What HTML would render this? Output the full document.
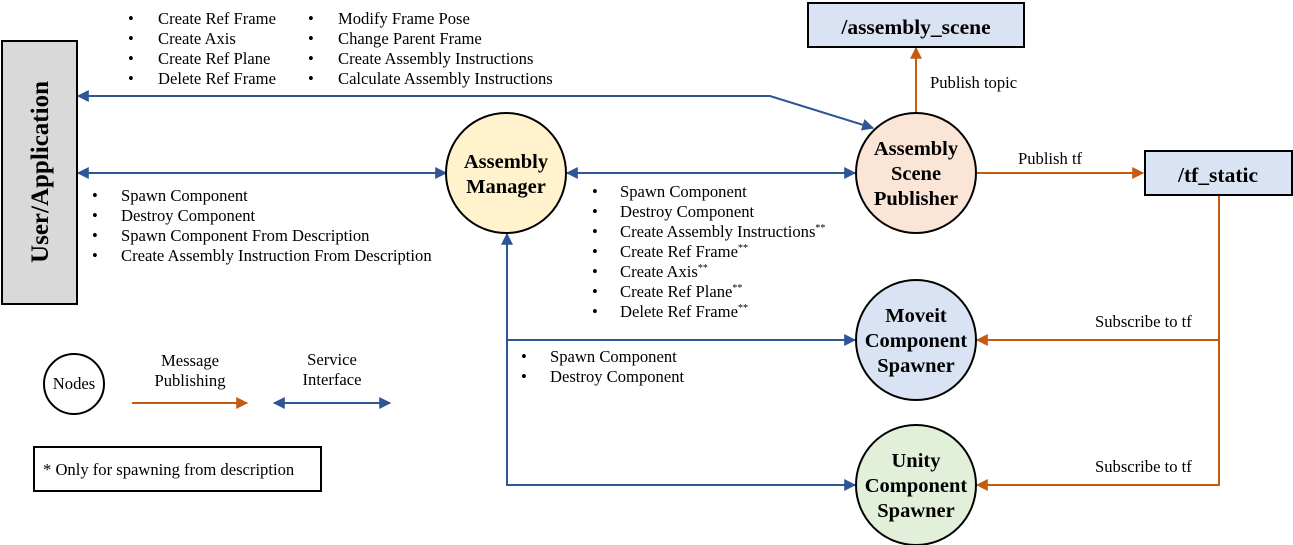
<!DOCTYPE html>
<html><head><meta charset="utf-8"><style>
body{margin:0;background:#fff}
svg{display:block;font-family:"Liberation Serif",serif}
.t{font-size:16.6px;fill:#000}
.b{font-size:20.5px;font-weight:bold;fill:#000}
</style></head><body>
<svg width="1293" height="545" viewBox="0 0 1293 545">
<defs>
<marker id="ab" viewBox="0 0 10 10" refX="9" refY="5" markerWidth="13" markerHeight="12" markerUnits="userSpaceOnUse" orient="auto-start-reverse"><path d="M0,0L10,5L0,10z" fill="#2f5597"/></marker>
<marker id="ao" viewBox="0 0 10 10" refX="9" refY="5" markerWidth="13" markerHeight="12" markerUnits="userSpaceOnUse" orient="auto-start-reverse"><path d="M0,0L10,5L0,10z" fill="#c55a11"/></marker>
</defs>
<g stroke="#2f5597" stroke-width="2" fill="none">
<polyline points="78,96 770,96 873,128" marker-start="url(#ab)" marker-end="url(#ab)"/>
<line x1="78" y1="173" x2="446" y2="173" marker-start="url(#ab)" marker-end="url(#ab)"/>
<line x1="567" y1="173" x2="855" y2="173" marker-start="url(#ab)" marker-end="url(#ab)"/>
<polyline points="507,234 507,485 855,485" marker-start="url(#ab)" marker-end="url(#ab)"/>
<line x1="507" y1="340" x2="855" y2="340" marker-end="url(#ab)"/>
<line x1="274" y1="403" x2="390" y2="403" marker-start="url(#ab)" marker-end="url(#ab)"/>
</g>
<g stroke="#c55a11" stroke-width="2" fill="none">
<line x1="916" y1="113" x2="916" y2="48" marker-end="url(#ao)"/>
<line x1="977" y1="173" x2="1143" y2="173" marker-end="url(#ao)"/>
<polyline points="1219,196 1219,485 977,485" marker-end="url(#ao)"/>
<line x1="1219" y1="340" x2="977" y2="340" marker-end="url(#ao)"/>
<line x1="132" y1="403" x2="247" y2="403" marker-end="url(#ao)"/>
</g>
<rect x="2" y="41" width="75" height="263" fill="#d9d9d9" stroke="#000" stroke-width="2"/>
<text class="b" transform="translate(48,172) rotate(-90)" text-anchor="middle" style="font-size:25px">User/Application</text>
<rect x="808" y="3" width="216" height="44" fill="#dae3f3" stroke="#000" stroke-width="2"/>
<text class="b" x="916" y="34" text-anchor="middle" style="font-size:21.5px">/assembly_scene</text>
<rect x="1145" y="151" width="147" height="44" fill="#dae3f3" stroke="#000" stroke-width="2"/>
<text class="b" x="1218" y="182" text-anchor="middle" style="font-size:21.5px">/tf_static</text>
<g stroke="#000" stroke-width="2">
<circle cx="506" cy="173" r="60" fill="#fff2cc"/>
<circle cx="916" cy="173" r="60" fill="#fbe5d6"/>
<circle cx="916" cy="340" r="60" fill="#dae3f3"/>
<circle cx="916" cy="485" r="60" fill="#e2f0d9"/>
<circle cx="74" cy="384" r="30" fill="#fff"/>
</g>
<rect x="34" y="447" width="287" height="44" fill="#fff" stroke="#000" stroke-width="2"/>
<g class="b" text-anchor="middle">
<text x="506" y="168">Assembly</text><text x="506" y="193">Manager</text>
<text x="916" y="155">Assembly</text><text x="916" y="180">Scene</text><text x="916" y="205">Publisher</text>
<text x="916" y="322">Moveit</text><text x="916" y="347">Component</text><text x="916" y="372">Spawner</text>
<text x="916" y="467">Unity</text><text x="916" y="492">Component</text><text x="916" y="517">Spawner</text>
</g>
<g class="t">
<text x="74" y="389" text-anchor="middle">Nodes</text>
<text x="190" y="366" text-anchor="middle">Message</text><text x="190" y="386" text-anchor="middle">Publishing</text>
<text x="332" y="365" text-anchor="middle">Service</text><text x="332" y="385" text-anchor="middle">Interface</text>
<text x="43" y="475">* Only for spawning from description</text>
<text x="930" y="88">Publish topic</text>
<text x="1018" y="164">Publish tf</text>
<text x="1095" y="327">Subscribe to tf</text>
<text x="1095" y="472">Subscribe to tf</text>
<text x="128" y="24">•</text><text x="158" y="24">Create Ref Frame</text>
<text x="128" y="44">•</text><text x="158" y="44">Create Axis</text>
<text x="128" y="64">•</text><text x="158" y="64">Create Ref Plane</text>
<text x="128" y="84">•</text><text x="158" y="84">Delete Ref Frame</text>
<text x="308" y="24">•</text><text x="338" y="24">Modify Frame Pose</text>
<text x="308" y="44">•</text><text x="338" y="44">Change Parent Frame</text>
<text x="308" y="64">•</text><text x="338" y="64">Create Assembly Instructions</text>
<text x="308" y="84">•</text><text x="338" y="84">Calculate Assembly Instructions</text>
<text x="92" y="201">•</text><text x="121" y="201">Spawn Component</text>
<text x="92" y="221">•</text><text x="121" y="221">Destroy Component</text>
<text x="92" y="241">•</text><text x="121" y="241">Spawn Component From Description</text>
<text x="92" y="261">•</text><text x="121" y="261">Create Assembly Instruction From Description</text>
<text x="592" y="197">•</text><text x="620" y="197">Spawn Component</text>
<text x="592" y="217">•</text><text x="620" y="217">Destroy Component</text>
<text x="592" y="237">•</text><text x="620" y="237">Create Assembly Instructions<tspan font-size="10" dy="-6">**</tspan></text>
<text x="592" y="257">•</text><text x="620" y="257">Create Ref Frame<tspan font-size="10" dy="-6">**</tspan></text>
<text x="592" y="277">•</text><text x="620" y="277">Create Axis<tspan font-size="10" dy="-6">**</tspan></text>
<text x="592" y="297">•</text><text x="620" y="297">Create Ref Plane<tspan font-size="10" dy="-6">**</tspan></text>
<text x="592" y="317">•</text><text x="620" y="317">Delete Ref Frame<tspan font-size="10" dy="-6">**</tspan></text>
<text x="521" y="362">•</text><text x="550" y="362">Spawn Component</text>
<text x="521" y="382">•</text><text x="550" y="382">Destroy Component</text>
</g>
</svg>
</body></html>
